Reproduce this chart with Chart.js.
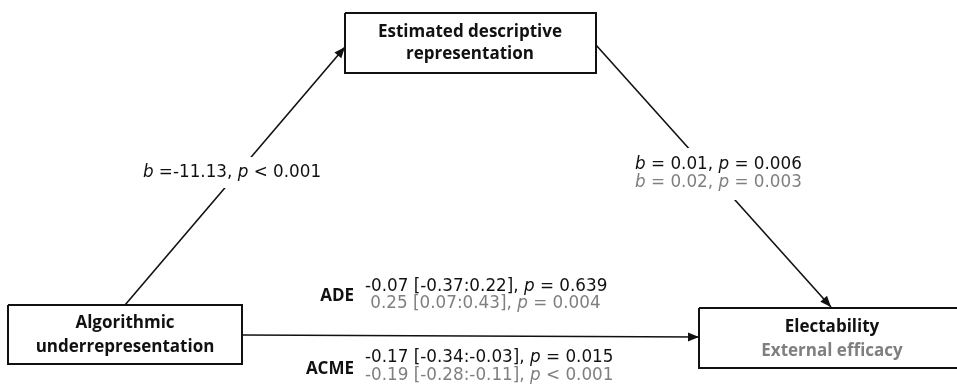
<!DOCTYPE html>
<html>
<head>
<meta charset="utf-8">
<script src="https://cdn.jsdelivr.net/npm/chart.js@4.4.1/dist/chart.umd.min.js"></script>
<style>
  html, body { margin: 0; padding: 0; background: #ffffff; }
  #wrap { width: 957px; height: 386px; }
</style>
</head>
<body>
<div id="wrap"><canvas id="c" width="957" height="386"></canvas></div>
<script>
// ---- model content ----
const predictorLabel = ['Algorithmic', 'underrepresentation'];
const mediatorLabel = ['Estimated descriptive', 'representation'];
const outcomeLabels = ['Electability', 'External efficacy'];

// path a (predictor -> mediator)
const aCoef = [-11.13];
const aPval = ['< 0.001'];

// path b (mediator -> outcome), one entry per outcome
const bCoef = [0.01, 0.02];
const bPval = ['= 0.006', '= 0.003'];

// direct and mediated effects, one entry per outcome
const adeEst = [-0.07, 0.25];
const adeLow = [-0.37, 0.07];
const adeHigh = [0.22, 0.43];
const adePval = ['= 0.639', '= 0.004'];

const acmeEst = [-0.17, -0.19];
const acmeLow = [-0.34, -0.28];
const acmeHigh = [-0.03, -0.11];
const acmePval = ['= 0.015', '< 0.001'];

// ---- layout (in the chart's own x/y units) ----
const layout = {
  predictor: { x1: 8, y1: 305, x2: 242, y2: 364 },
  mediator:  { x1: 345, y1: 13, x2: 596, y2: 73 },
  outcome:   { x1: 699, y1: 308, x2: 964, y2: 368 },
  pathA: [{ x: 125, y: 305 }, { x: 345, y: 47 }],
  pathB: [{ x: 596, y: 45 }, { x: 831, y: 307 }],
  pathC: [{ x: 242, y: 335 }, { x: 699, y: 337 }]
};

const BLACK = '#111111';
const GREY = '#7f7f7f';
const VAL_FONT = '"DejaVu Sans", Verdana, sans-serif';
const BOX_FONT = '"Open Sans", "Noto Sans", sans-serif';
const VAL_SIZE = 16.8;
const BOX_SIZE = 17;

function boxPoints(b) {
  return [
    { x: b.x1, y: b.y1 }, { x: b.x2, y: b.y1 }, { x: b.x2, y: b.y2 },
    { x: b.x1, y: b.y2 }, { x: b.x1, y: b.y1 }
  ];
}

const fmt = v => v.toFixed(2);

function coefSegments(b, p, color) {
  const bStr = b < 0 ? '=' + fmt(b) : '= ' + fmt(b);
  return [
    { t: 'b', i: true, c: color },
    { t: ' ' + bStr + ', ', i: false, c: color },
    { t: 'p', i: true, c: color },
    { t: ' ' + p, i: false, c: color }
  ];
}

function effectSegments(est, lo, hi, p, color, lead) {
  return [
    { t: lead + fmt(est) + ' [' + fmt(lo) + ':' + fmt(hi) + '], ', i: false, c: color },
    { t: 'p', i: true, c: color },
    { t: ' ' + p, i: false, c: color }
  ];
}

function drawRich(ctx, segs, x, y, align, size) {
  let total = 0;
  const widths = segs.map(s => {
    ctx.font = (s.i ? 'italic ' : '') + size + 'px ' + VAL_FONT;
    const w = ctx.measureText(s.t).width;
    total += w;
    return w;
  });
  let cx = align === 'center' ? x - total / 2 : (align === 'right' ? x - total : x);
  ctx.textAlign = 'left';
  ctx.textBaseline = 'middle';
  segs.forEach((s, k) => {
    ctx.font = (s.i ? 'italic ' : '') + size + 'px ' + VAL_FONT;
    ctx.fillStyle = s.c;
    ctx.fillText(s.t, cx, y);
    cx += widths[k];
  });
  return total;
}

const arrowDatasets = ['pathA', 'pathB', 'pathC'];

const lineStyle = { showLine: true, pointRadius: 0, borderColor: BLACK, fill: false, tension: 0 };

const data = {
  datasets: [
    Object.assign({ label: 'pathA', data: layout.pathA, borderWidth: 1.6 }, lineStyle),
    Object.assign({ label: 'pathB', data: layout.pathB, borderWidth: 1.6 }, lineStyle),
    Object.assign({ label: 'pathC', data: layout.pathC, borderWidth: 1.6 }, lineStyle),
    Object.assign({ label: 'predictor', data: boxPoints(layout.predictor), borderWidth: 2 }, lineStyle),
    Object.assign({ label: 'mediator', data: boxPoints(layout.mediator), borderWidth: 2 }, lineStyle),
    Object.assign({ label: 'outcome', data: boxPoints(layout.outcome), borderWidth: 2 }, lineStyle)
  ]
};

const diagramPlugin = {
  id: 'diagram',
  afterDatasetsDraw(chart) {
    const ctx = chart.ctx;
    const xs = chart.scales.x, ys = chart.scales.y;
    const px = v => xs.getPixelForValue(v);
    const py = v => ys.getPixelForValue(v);

    ctx.save();
    // arrowheads at the end of each path
    chart.data.datasets.forEach(ds => {
      if (!arrowDatasets.includes(ds.label)) return;
      const a = ds.data[0], b = ds.data[ds.data.length - 1];
      const x0 = px(a.x), y0 = py(a.y), x1 = px(b.x), y1 = py(b.y);
      const ang = Math.atan2(y1 - y0, x1 - x0);
      const len = 11, half = 4.5;
      ctx.beginPath();
      ctx.moveTo(x1, y1);
      ctx.lineTo(x1 - len * Math.cos(ang) + half * Math.sin(ang), y1 - len * Math.sin(ang) - half * Math.cos(ang));
      ctx.lineTo(x1 - len * Math.cos(ang) - half * Math.sin(ang), y1 - len * Math.sin(ang) + half * Math.cos(ang));
      ctx.closePath();
      ctx.fillStyle = BLACK;
      ctx.fill();
    });

    // white label backgrounds over the paths
    ctx.fillStyle = '#ffffff';
    ctx.fillRect(px(138), py(157), px(326) - px(138), py(188) - py(157));
    ctx.fillRect(px(628), py(148), px(806) - px(628), py(200) - py(148));

    // box titles
    ctx.textAlign = 'center';
    ctx.textBaseline = 'middle';
    ctx.font = 'bold ' + BOX_SIZE + 'px ' + BOX_FONT;
    ctx.fillStyle = BLACK;
    ctx.fillText(mediatorLabel[0], px(470), py(32));
    ctx.fillText(mediatorLabel[1], px(470), py(54));
    ctx.fillText(predictorLabel[0], px(125), py(323));
    ctx.fillText(predictorLabel[1], px(125), py(347));
    ctx.fillText(outcomeLabels[0], px(832), py(327));
    ctx.fillStyle = GREY;
    ctx.fillText(outcomeLabels[1], px(832), py(351));

    // path coefficients
    drawRich(ctx, coefSegments(aCoef[0], aPval[0], BLACK), px(232), py(173), 'center', VAL_SIZE);
    drawRich(ctx, coefSegments(bCoef[0], bPval[0], BLACK), px(635), py(165), 'left', VAL_SIZE);
    drawRich(ctx, coefSegments(bCoef[1], bPval[1], GREY), px(635), py(183), 'left', VAL_SIZE);

    // effect labels
    ctx.font = 'bold ' + BOX_SIZE + 'px ' + BOX_FONT;
    ctx.fillStyle = BLACK;
    ctx.textAlign = 'right';
    ctx.textBaseline = 'middle';
    ctx.fillText('ADE', px(354), py(296));
    ctx.fillText('ACME', px(354), py(369));

    drawRich(ctx, effectSegments(adeEst[0], adeLow[0], adeHigh[0], adePval[0], BLACK, ''), px(365), py(287), 'left', VAL_SIZE);
    drawRich(ctx, effectSegments(adeEst[1], adeLow[1], adeHigh[1], adePval[1], GREY, ' '), px(365), py(304), 'left', VAL_SIZE);
    drawRich(ctx, effectSegments(acmeEst[0], acmeLow[0], acmeHigh[0], acmePval[0], BLACK, ''), px(365), py(358), 'left', VAL_SIZE);
    drawRich(ctx, effectSegments(acmeEst[1], acmeLow[1], acmeHigh[1], acmePval[1], GREY, ''), px(365), py(376), 'left', VAL_SIZE);
    ctx.restore();
  }
};

new Chart(document.getElementById('c'), {
  type: 'scatter',
  data: data,
  options: {
    responsive: false,
    devicePixelRatio: 1,
    animation: false,
    layout: { padding: 0 },
    plugins: { legend: { display: false }, tooltip: { enabled: false } },
    scales: {
      x: { type: 'linear', min: 0, max: 957, display: false },
      y: { type: 'linear', min: 0, max: 386, reverse: true, display: false }
    }
  },
  plugins: [diagramPlugin]
});
</script>
</body>
</html>
